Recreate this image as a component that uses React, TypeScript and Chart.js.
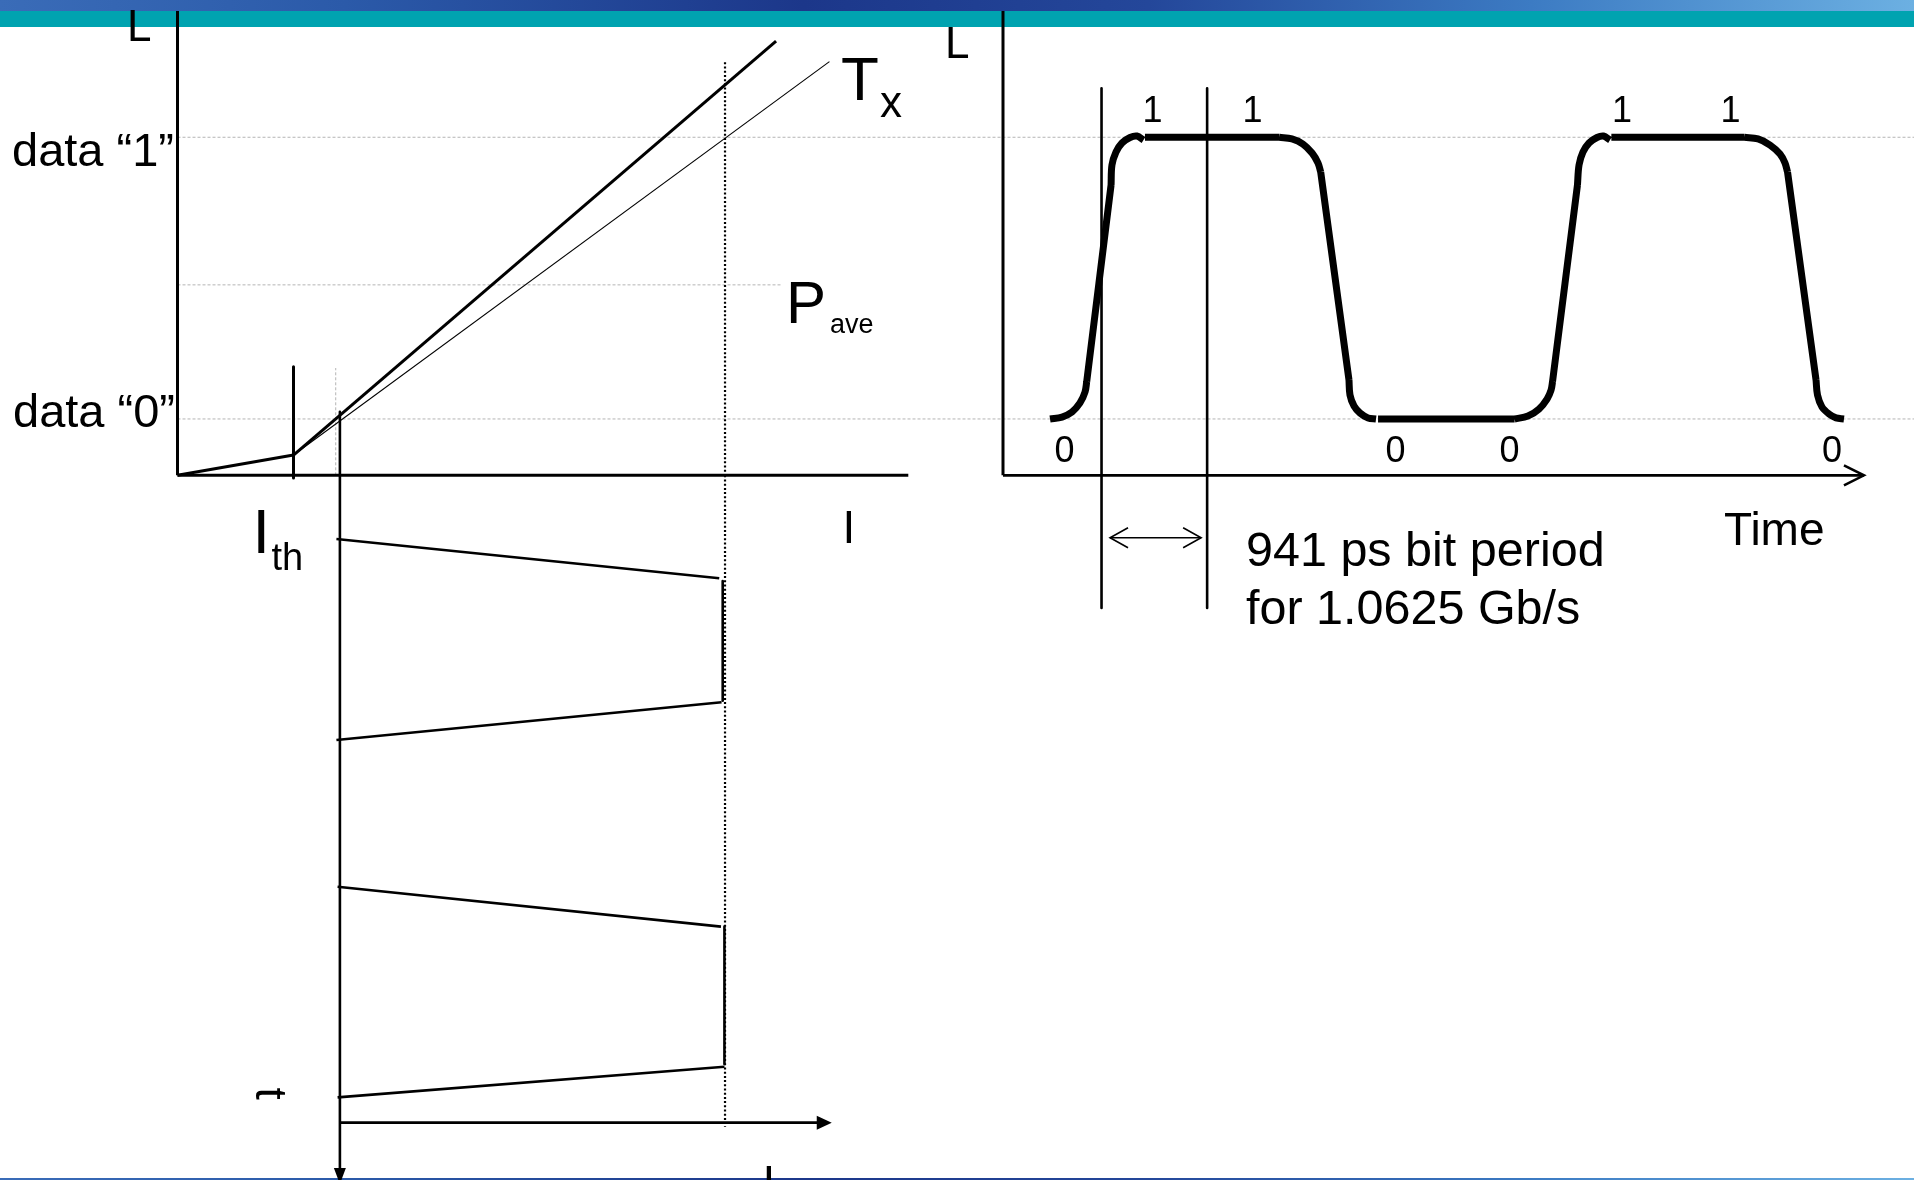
import { useEffect, useRef } from "react";
import { Chart, registerables } from "chart.js";

Chart.register(...registerables);

const W = 1914;
const H = 1180;
const FONT = '"Liberation Sans", Arial, Helvetica, sans-serif';

// ---------------- L–I characteristic (current mA, optical power mW) ----------------
const belowThresholdI = [0, 10];
const belowThresholdL = [0, 0.18];
const laserSlopeI = [10, 51.6];
const laserSlopeL = [0.18, 3.854];
const txSlopeI = [10, 56.2];
const txSlopeL = [0.18, 3.671];
const thresholdCurrent = 10; // I_th
const zeroCurrent = 14; // drive current for data "0"
const oneCurrent = 47.2; // drive current for data "1"
const levelOne = 3.0; // data "1"
const levelZero = 0.5; // data "0"
const levelAvg = 1.69; // P_ave
const currentAxisMax = 63;
const powerAxisMax = 4.12;

// ---------------- drive current vs time (current mA, time ps, downward) ----------------
const driveSegI = [
  [13.7, 46.7],
  [47.0, 47.0],
  [46.9, 13.7],
  [13.8, 46.85],
  [47.15, 47.15],
  [47.15, 13.8],
];
const driveSegT = [
  [568, 918],
  [942, 2009],
  [2023, 2359],
  [3666, 4022],
  [4022, 5246],
  [5270, 5543],
];
const driveAxisTime = 5769;

// ---------------- optical output vs time (time ps, power mW) ----------------
const bitPeriodPs = 941;
const bitStartPs = 878;
const bitLabels = ["0", "1", "1", "0", "0", "1", "1", "0"];
const bitLabelTimes = [548, 1332, 2223, 3498, 4513, 5516, 6483, 7387];
const timeAxisMax = 7672;
const waveTime = [
  419, 526, 615, 686, 731, 746, null,
  746, 963, null,
  963, 971, 1007, 1060, 1132, 1194, 1252, null,
  1265, 2462, null,
  2462, 2575, 2673, 2754, 2807, 2831, null,
  2831, 3083, null,
  3083, 3092, 3128, 3181, 3253, 3324, null,
  3342, 4559, null,
  4559, 4678, 4776, 4848, 4884, 4897, null,
  4897, 5119, null,
  5119, 5133, 5168, 5222, 5293, 5351, 5409, null,
  5421, 6607, null,
  6607, 6728, 6835, 6924, 6968, 6991, null,
  6991, 7245, null,
  7245, 7258, 7298, 7361, 7423, 7494,
];
const waveLight = [
  0.5, 0.517, 0.562, 0.642, 0.739, 0.831, null,
  0.831, 2.576, null,
  2.576, 2.754, 2.869, 2.949, 2.998, 3.011, 2.976, null,
  3.0, 3.0, null,
  3.0, 2.985, 2.94, 2.86, 2.772, 2.692, null,
  2.692, 0.846, null,
  0.846, 0.713, 0.615, 0.553, 0.509, 0.5, null,
  0.5, 0.5, null,
  0.5, 0.526, 0.588, 0.677, 0.757, 0.831, null,
  0.831, 2.576, null,
  2.576, 2.754, 2.869, 2.949, 2.998, 3.011, 2.976, null,
  3.0, 3.0, null,
  3.0, 2.985, 2.931, 2.851, 2.772, 2.692, null,
  2.692, 0.846, null,
  0.846, 0.713, 0.606, 0.544, 0.509, 0.5,
];

// ---------------- layout (pixel placement of the panels) ----------------
const LI_X0 = 177.5;
const LI_Y0 = 475.3;
const PX_PER_MA = 11.6;
const PX_PER_MW = 112.68;
const WAVE_X0 = 1003;
const PX_PER_PS = 105.6 / 941;

const seg = (xs: any[], ys: any[], xAxisID: string, yAxisID: string, style: any = {}) => ({
  data: xs.map((x, i) => ({ x, y: ys[i] })),
  xAxisID,
  yAxisID,
  showLine: true,
  spanGaps: false,
  pointRadius: 0,
  pointHoverRadius: 0,
  borderColor: "#000",
  backgroundColor: "#000",
  borderWidth: 3,
  borderCapStyle: "butt",
  borderJoinStyle: "round",
  fill: false,
  tension: 0,
  ...style,
});

const GRID = { borderColor: "#b4b4b4", borderWidth: 1, borderDash: [3, 2], order: 10 };
const DOTS = { borderColor: "#000", borderWidth: 2.2, borderDash: [2, 2.2], order: 9 };

function text(ctx: CanvasRenderingContext2D, s: string, x: number, y: number, size: number, align: CanvasTextAlign = "left") {
  ctx.font = `${size}px ${FONT}`;
  ctx.textAlign = align;
  ctx.textBaseline = "alphabetic";
  ctx.fillStyle = "#000";
  ctx.fillText(s, x, y);
}

function chevron(ctx: CanvasRenderingContext2D, x: number, y: number, dir: number, len: number, half: number, lw: number) {
  ctx.save();
  ctx.strokeStyle = "#000";
  ctx.lineWidth = lw;
  ctx.lineJoin = "miter";
  ctx.beginPath();
  ctx.moveTo(x - dir * len, y - half);
  ctx.lineTo(x, y);
  ctx.lineTo(x - dir * len, y + half);
  ctx.stroke();
  ctx.restore();
}

function triangle(ctx: CanvasRenderingContext2D, pts: number[][]) {
  ctx.save();
  ctx.fillStyle = "#000";
  ctx.beginPath();
  ctx.moveTo(pts[0][0], pts[0][1]);
  ctx.lineTo(pts[1][0], pts[1][1]);
  ctx.lineTo(pts[2][0], pts[2][1]);
  ctx.closePath();
  ctx.fill();
  ctx.restore();
}

const decor = {
  id: "decor",
  beforeDraw(chart: any) {
    const ctx = chart.ctx as CanvasRenderingContext2D;
    ctx.save();
    ctx.fillStyle = "#fff";
    ctx.fillRect(0, 0, W, H);
    const g = ctx.createLinearGradient(0, 0, W, 0);
    g.addColorStop(0, "#3a6cb8");
    g.addColorStop(0.18, "#2b5aa9");
    g.addColorStop(0.42, "#1c378a");
    g.addColorStop(0.6, "#24479a");
    g.addColorStop(0.8, "#3c7bc3");
    g.addColorStop(1, "#6cb0e2");
    ctx.fillStyle = g;
    ctx.fillRect(0, 0, W, 11);
    ctx.fillStyle = "#00a3b0";
    ctx.fillRect(0, 11, W, 16);
    ctx.fillStyle = g;
    ctx.fillRect(0, 1178, W, 2);
    ctx.restore();
  },
  afterDraw(chart: any) {
    const ctx = chart.ctx as CanvasRenderingContext2D;
    const s = chart.scales;
    const xI = (v: number) => s.xI.getPixelForValue(v);
    const yL = (v: number) => s.yL.getPixelForValue(v);
    const xT = (v: number) => s.xT.getPixelForValue(v);
    const yT = (v: number) => s.yT.getPixelForValue(v);

    // arrowheads
    chevron(ctx, xT(timeAxisMax), yL(0), 1, 20, 10, 2.5);
    const arrowY = yL(0) + 62.4;
    chevron(ctx, xT(bitStartPs) + 8.5, arrowY, -1, 18, 10, 1.6);
    chevron(ctx, xT(bitStartPs + bitPeriodPs) - 6, arrowY, 1, 18, 10, 1.6);
    const tipX = xI(56.4);
    const ay = yT(driveAxisTime);
    triangle(ctx, [[tipX, ay], [tipX - 15, ay - 7], [tipX - 15, ay + 7]]);
    const dx = xI(zeroCurrent);
    triangle(ctx, [[dx, 1184], [dx - 6, 1168], [dx + 6, 1168]]);

    // L–I labels
    text(ctx, "L", 127, 40.7, 44);
    text(ctx, "data \u201c1\u201d", 12, yL(levelOne) + 29, 47);
    text(ctx, "data \u201c0\u201d", 13, yL(levelZero) + 8, 47);
    text(ctx, "T", 841, 100, 62);
    text(ctx, "x", 880, 116.7, 44);
    text(ctx, "P", 786, 323, 60);
    text(ctx, "ave", 830, 333, 27);
    text(ctx, "I", xI(thresholdCurrent) - 41, 553, 63);
    text(ctx, "th", xI(thresholdCurrent) - 22, 570, 38);
    text(ctx, "I", 849, 543, 46, "center");

    // drive panel labels
    ctx.save();
    ctx.translate(256, 1087.6);
    ctx.rotate(Math.PI / 2);
    text(ctx, "t", 0, 0, 44);
    ctx.restore();
    text(ctx, "I", 769, 1198, 46, "center");

    // waveform labels
    text(ctx, "L", 945, 58, 44);
    bitLabels.forEach((b, i) => {
      const y = b === "1" ? yL(levelOne) - 15.6 : yL(levelZero) + 42.7;
      text(ctx, b, xT(bitLabelTimes[i]), y, 36, "center");
    });
    text(ctx, "Time", 1724, 545, 46);
    text(ctx, "941 ps bit period", 1246, 566, 48.5);
    text(ctx, "for 1.0625 Gb/s", 1246, 624, 48.5);
  },
};

export default function App() {
  const ref = useRef<HTMLCanvasElement | null>(null);

  useEffect(() => {
    if (!ref.current) return;
    const datasets: any[] = [
      // grid / guide lines
      seg([0, 150], [levelOne, levelOne], "xI", "yL", GRID),
      seg([0, 150], [levelZero, levelZero], "xI", "yL", GRID),
      seg([0, 52.1], [levelAvg, levelAvg], "xI", "yL", GRID),
      seg([13.64, 13.64], [0, 0.952], "xI", "yL", GRID),
      seg([oneCurrent, oneCurrent], [3.665, 0], "xI", "yL", DOTS),
      seg([oneCurrent, oneCurrent], [0, 5807], "xI", "yT", DOTS),
      // L–I axes
      seg([0, 0], [0, powerAxisMax], "xI", "yL", { borderWidth: 3 }),
      seg([0, currentAxisMax], [0, 0], "xI", "yL", { borderWidth: 3 }),
      // L–I curves
      seg(belowThresholdI, belowThresholdL, "xI", "yL", { borderWidth: 3 }),
      seg(laserSlopeI, laserSlopeL, "xI", "yL", { borderWidth: 3 }),
      seg(txSlopeI, txSlopeL, "xI", "yL", { borderWidth: 1.1 }),
      seg([thresholdCurrent, thresholdCurrent], [0.964, -0.024], "xI", "yL", { borderWidth: 3 }),
      // drive current panel axes
      seg([zeroCurrent, zeroCurrent], [0.564, 0], "xI", "yL", { borderWidth: 2.6 }),
      seg([zeroCurrent, zeroCurrent], [0, 6290], "xI", "yT", { borderWidth: 2.6 }),
      seg([zeroCurrent, 55.5], [driveAxisTime, driveAxisTime], "xI", "yT", { borderWidth: 2.8 }),
      // waveform panel axes and bit markers
      seg([0, 0], [0, powerAxisMax], "xT", "yL", { borderWidth: 3 }),
      seg([0, timeAxisMax], [0, 0], "xT", "yL", { borderWidth: 2.8 }),
      seg([bitStartPs, bitStartPs], [3.435, -1.178], "xT", "yL", { borderWidth: 2.6 }),
      seg([bitStartPs + bitPeriodPs, bitStartPs + bitPeriodPs], [3.435, -1.178], "xT", "yL", { borderWidth: 2.6 }),
      seg([954, 1764], [-0.554, -0.554], "xT", "yL", { borderWidth: 1.6 }),
      // optical waveform
      seg(waveTime, waveLight, "xT", "yL", { borderWidth: 7, tension: 0.35, order: 0 }),
    ];
    driveSegI.forEach((xs, i) => datasets.push(seg(xs, driveSegT[i], "xI", "yT", { borderWidth: 2.6 })));

    const chart = new Chart(ref.current, {
      type: "scatter",
      data: { datasets },
      plugins: [decor],
      options: {
        animation: false,
        responsive: false,
        maintainAspectRatio: false,
        events: [],
        layout: { padding: 0 },
        plugins: { legend: { display: false }, tooltip: { enabled: false }, title: { display: false } },
        scales: {
          x: { display: false },
          y: { display: false },
          xI: {
            type: "linear",
            display: false,
            position: "bottom",
            min: -LI_X0 / PX_PER_MA,
            max: (W - LI_X0) / PX_PER_MA,
          },
          yL: {
            type: "linear",
            display: false,
            position: "left",
            min: -(H - LI_Y0) / PX_PER_MW,
            max: LI_Y0 / PX_PER_MW,
          },
          xT: {
            type: "linear",
            display: false,
            position: "bottom",
            min: -WAVE_X0 / PX_PER_PS,
            max: (W - WAVE_X0) / PX_PER_PS,
          },
          yT: {
            type: "linear",
            display: false,
            position: "left",
            reverse: true,
            min: -LI_Y0 / PX_PER_PS,
            max: (H - LI_Y0) / PX_PER_PS,
          },
        },
      } as any,
    });
    return () => chart.destroy();
  }, []);

  return (
    <div style={{ position: "fixed", left: 0, top: 0, width: W, height: H, overflow: "hidden", background: "#fff" }}>
      <canvas ref={ref} width={W} height={H} style={{ display: "block", width: W, height: H }} />
    </div>
  );
}
